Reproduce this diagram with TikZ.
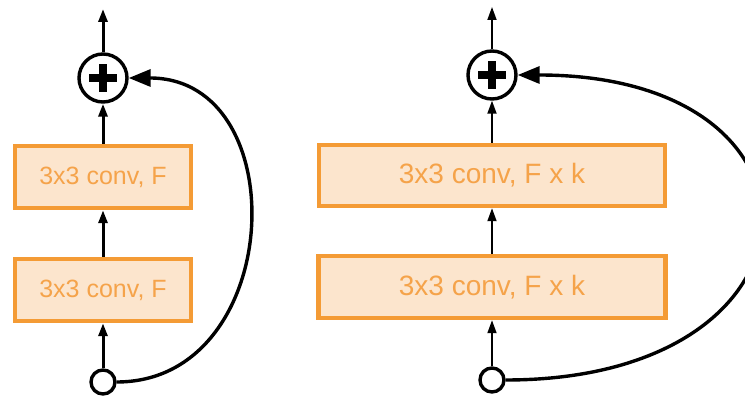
\documentclass[tikz,border=0pt]{standalone}
\usepackage{fontspec}
\setmainfont{Liberation Sans}
\usetikzlibrary{arrows.meta}
\definecolor{boxfill}{HTML}{FCE5CD}
\definecolor{boxline}{HTML}{F49B35}
\definecolor{boxtext}{HTML}{F5A34A}
\begin{document}
\begin{tikzpicture}[x=1pt,y=1pt,
  convbox/.style={draw=boxline,fill=boxfill,line width=4.5pt,text=boxtext,inner sep=0pt},
  plusnode/.style={circle,draw,line width=3.4pt,minimum size=48pt,inner sep=0pt,
    path picture={\fill (path picture bounding box.center) +(-14,-3.8) rectangle +(14,3.8);
                  \fill (path picture bounding box.center) +(-3.8,-14) rectangle +(3.8,14);}},
  innode/.style={circle,draw,line width=3.4pt,minimum size=24pt,inner sep=0pt,fill=white},
  thickarr/.style={line width=3pt,-{Triangle[length=13pt,width=9pt]}},
  thinarr/.style={line width=1.8pt,-{Triangle[length=13pt,width=9pt]}},
  skiparr/.style={line width=3.4pt,-{Triangle[length=22pt,width=17pt]}}]
\useasboundingbox (0,0) rectangle (745,399);
% left block
\node[plusnode] (plus1) at (103,321) {};
\node[convbox,minimum width=176pt,minimum height=62pt,font=\fontsize{25}{30}\selectfont] (b1) at (103,222) {3x3 conv, F};
\node[convbox,minimum width=176pt,minimum height=62pt,font=\fontsize{25}{30}\selectfont] (b2) at (103,109) {3x3 conv, F};
\node[innode] (in1) at (103,17) {};
\coordinate (out1) at (103,390);
\draw[thickarr] (in1) -- (b2);
\draw[thickarr] (b2) -- (b1);
\draw[thickarr] (b1) -- (plus1);
\draw[thickarr] (plus1) -- (out1);
\draw[skiparr] (in1.east) .. controls +(168,0) and +(168,0) .. (plus1.east);
% right block
\node[plusnode] (plus2) at (492,324) {};
\node[convbox,minimum width=346pt,minimum height=61pt,font=\fontsize{28}{33}\selectfont] (b3) at (492,223.5) {3x3 conv, F x k};
\node[convbox,minimum width=347pt,minimum height=62pt,font=\fontsize{28}{33}\selectfont] (b4) at (492,112) {3x3 conv, F x k};
\node[innode] (in2) at (492,19) {};
\coordinate (out2) at (492,392);
\draw[thinarr] (in2) -- (b4);
\draw[thinarr] (b4) -- (b3);
\draw[thinarr] (b3) -- (plus2);
\draw[thinarr] (plus2) -- (out2);
\draw[skiparr] (in2.east) .. controls +(330,0) and +(330,0) .. (plus2.east);
\end{tikzpicture}
\end{document}
